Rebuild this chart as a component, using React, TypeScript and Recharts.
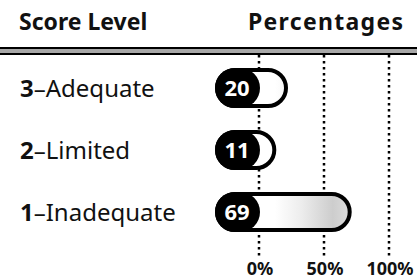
import { Bar, BarChart, CartesianGrid, XAxis, YAxis } from "recharts";

const levelNumbers = ["3", "2", "1"];
const levelNames = ["Adequate", "Limited", "Inadequate"];
const percentages = [20, 11, 69];
const xTicks = [0, 50, 100];

const data = levelNames.map((name, i) => ({
  level: `${levelNumbers[i]}-${name}`,
  num: levelNumbers[i],
  name,
  pct: percentages[i],
}));

const FONT = "'Noto Sans', 'Open Sans', sans-serif";

function LevelTick({ y, payload }: any) {
  const row = data.find((d) => d.level === payload.value);
  return (
    <text x={20} y={y} dy={9} fontFamily={FONT} fontSize={24} fill="#111" textAnchor="start">
      <tspan fontWeight={700}>{row?.num}</tspan>
      <tspan>{`–${row?.name}`}</tspan>
    </text>
  );
}

function PctTick({ x, payload }: any) {
  return (
    <text x={x + 1} y={275} fontFamily={FONT} fontSize={18} fontWeight={700} fill="#111" textAnchor="middle">
      {`${payload.value}%`}
    </text>
  );
}

function PillBar(props: any) {
  const { x, y, width, height, value } = props;
  const left = x - 42;
  const r = height / 2;
  return (
    <g>
      <rect x={left} y={y} width={width + 43} height={height} rx={r} ry={r} fill="url(#speckle)" stroke="#000" strokeWidth={4} />
      <rect x={left - 2} y={y - 2} width={45} height={height + 4} rx={r + 2} ry={r + 2} fill="#000" />
      <text x={left + 20} y={y + r} dy={8} textAnchor="middle" fontFamily={FONT} fontSize={22} fontWeight={700} fill="#fff">
        {value}
      </text>
    </g>
  );
}

export default function App() {
  return (
    <div style={{ position: "absolute", left: 0, top: 0, width: 417, height: 280, background: "#fff" }}>
      <div style={{ position: "absolute", left: 19, top: 5, fontFamily: FONT, fontWeight: 700, fontSize: 23, lineHeight: "normal", color: "#111", whiteSpace: "nowrap" }}>
        Score Level
      </div>
      <div style={{ position: "absolute", left: 248, top: 5, fontFamily: FONT, fontWeight: 700, fontSize: 23, letterSpacing: 1.3, lineHeight: "normal", color: "#111", whiteSpace: "nowrap" }}>
        Percentages
      </div>
      <div
        style={{
          position: "absolute",
          left: 0,
          top: 47,
          width: 417,
          height: 4,
          borderTop: "2px solid #000",
          borderBottom: "2px solid #000",
          background: "#a8a8a8",
        }}
      />
      <div style={{ position: "absolute", left: 0, top: 0 }}>
        <BarChart
          width={417}
          height={280}
          data={data}
          layout="vertical"
          margin={{ top: 55, right: 28, left: 0, bottom: 0 }}
          barCategoryGap={0}
        >
          <defs>
            <linearGradient id="speckle" gradientUnits="userSpaceOnUse" x1={275} y1={0} x2={352} y2={0}>
              <stop offset="0" stopColor="#fff" />
              <stop offset="0.35" stopColor="#ececec" />
              <stop offset="0.75" stopColor="#cdcdcd" />
              <stop offset="1" stopColor="#dedede" />
            </linearGradient>
          </defs>
          <CartesianGrid horizontal={false} stroke="#000" strokeWidth={2.5} strokeDasharray="2.5 3.5" />
          <XAxis
            type="number"
            domain={[0, 100]}
            ticks={xTicks}
            axisLine={false}
            tickLine={false}
            tick={<PctTick />}
            height={24}
          />
          <YAxis
            type="category"
            dataKey="level"
            width={259}
            axisLine={false}
            tickLine={false}
            tick={<LevelTick />}
            padding={{ top: 2, bottom: 13 }}
          />
          <Bar dataKey="pct" barSize={36} shape={<PillBar />} isAnimationActive={false} />
        </BarChart>
      </div>
    </div>
  );
}
